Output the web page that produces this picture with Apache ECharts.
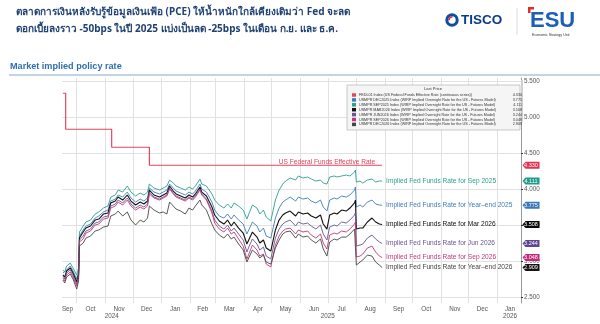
<!DOCTYPE html>
<html><head><meta charset="utf-8">
<script src="https://cdn.jsdelivr.net/npm/echarts@6/dist/echarts.min.js"></script>
<style>html,body{margin:0;padding:0;background:#fff}#c{width:600px;height:324px}</style>
</head><body><div id="c"></div>
<script>
// ---------- DATA ----------
const dates = ['2024-09-16','2024-09-18','2024-09-20','2024-09-24','2024-09-27','2024-10-01','2024-10-03','2024-10-04','2024-10-08','2024-10-11',
'2024-10-16','2024-10-21','2024-10-25','2024-10-30','2024-11-04','2024-11-07','2024-11-12','2024-11-15','2024-11-20','2024-11-25',
'2024-11-29','2024-12-04','2024-12-09','2024-12-13','2024-12-17','2024-12-19','2024-12-24','2024-12-30','2025-01-03','2025-01-07',
'2025-01-10','2025-01-14','2025-01-17','2025-01-22','2025-01-27','2025-01-31','2025-02-04','2025-02-07','2025-02-12','2025-02-14',
'2025-02-19','2025-02-25','2025-02-28','2025-03-05','2025-03-10','2025-03-14','2025-03-18','2025-03-21','2025-03-26','2025-03-31',
'2025-04-04','2025-04-07','2025-04-10','2025-04-15','2025-04-18','2025-04-22','2025-04-25','2025-04-30','2025-05-05','2025-05-09',
'2025-05-13','2025-05-16','2025-05-21','2025-05-27','2025-05-30','2025-06-04','2025-06-09','2025-06-13','2025-06-18','2025-06-23',
'2025-06-26','2025-06-30','2025-07-03','2025-07-08','2025-07-11','2025-07-16','2025-07-21','2025-07-25','2025-07-30','2025-07-31',
'2025-08-01','2025-08-05','2025-08-08','2025-08-13','2025-08-18','2025-08-22','2025-08-26','2025-08-29'];

const sep2025 = [2.875,2.847,2.931,2.972,2.903,2.806,2.903,3.403,3.486,3.542, 3.569,3.653,3.681,3.736,3.764,3.889,3.917,3.986,3.958,4.042,
3.958,3.903,3.944,3.917,3.958,4.069,4.014,3.986,4.014,4.042, 4.125,4.083,4.042,4.014,3.986,4.028,4.000,4.042,4.139,4.069,
4.042,3.931,3.847,3.778,3.736,3.792,3.736,3.806,3.764,3.708, 3.583,3.681,3.778,3.736,3.653,3.708,3.611,3.556,3.847,3.986,
4.069,4.111,4.153,4.125,4.181,4.153,4.167,4.139,4.111,4.125, 4.083,4.069,4.167,4.181,4.167,4.181,4.194,4.181,4.236,4.264,
4.097,4.111,4.083,4.125,4.139,4.097,4.111,4.111];

const dec2025 = [2.833,2.806,2.875,2.931,2.861,2.750,2.847,3.347,3.431,3.486, 3.514,3.597,3.625,3.681,3.708,3.833,3.861,3.917,3.889,3.958,
3.875,3.819,3.861,3.833,3.875,4.014,3.958,3.931,3.958,3.986, 4.069,4.014,3.972,3.944,3.917,3.958,3.931,3.972,4.069,4.000,
3.958,3.819,3.708,3.625,3.597,3.653,3.583,3.639,3.569,3.514, 3.375,3.458,3.542,3.486,3.403,3.458,3.347,3.319,3.597,3.736,
3.819,3.847,3.889,3.833,3.889,3.861,3.875,3.833,3.806,3.847, 3.750,3.694,3.847,3.875,3.861,3.903,3.889,3.917,3.986,4.028,
3.750,3.778,3.750,3.819,3.847,3.792,3.778,3.775];

const mar2026 = [2.806,2.778,2.861,2.903,2.833,2.708,2.819,3.319,3.403,3.458, 3.486,3.569,3.583,3.653,3.667,3.806,3.833,3.889,3.847,3.917,
3.833,3.778,3.819,3.792,3.833,3.986,3.917,3.889,3.917,3.944, 4.042,3.972,3.931,3.903,3.875,3.917,3.889,3.931,4.028,3.958,
3.903,3.750,3.639,3.556,3.514,3.569,3.486,3.542,3.458,3.389, 3.236,3.319,3.403,3.333,3.250,3.292,3.181,3.139,3.431,3.569,
3.639,3.667,3.694,3.625,3.681,3.653,3.667,3.625,3.597,3.639, 3.514,3.444,3.639,3.667,3.653,3.708,3.694,3.736,3.806,3.847,
3.444,3.458,3.458,3.542,3.597,3.542,3.514,3.508];

const jun2026 = [2.792,2.750,2.833,2.875,2.806,2.681,2.792,3.292,3.347,3.417, 3.444,3.528,3.542,3.611,3.625,3.764,3.792,3.847,3.806,3.875,
3.792,3.736,3.778,3.750,3.792,3.958,3.889,3.861,3.889,3.917, 4.014,3.944,3.903,3.875,3.847,3.889,3.861,3.903,4.000,3.931,
3.861,3.694,3.569,3.486,3.444,3.500,3.417,3.458,3.375,3.292, 3.125,3.222,3.306,3.236,3.153,3.194,3.069,3.028,3.319,3.444,
3.514,3.542,3.569,3.486,3.542,3.514,3.528,3.486,3.444,3.500, 3.375,3.292,3.472,3.500,3.486,3.542,3.528,3.569,3.639,3.667,
3.208,3.222,3.236,3.319,3.361,3.306,3.264,3.244];

const sep2026 = [2.764,2.722,2.806,2.847,2.778,2.653,2.764,3.264,3.306,3.389, 3.417,3.500,3.514,3.583,3.597,3.736,3.764,3.819,3.778,3.847,
3.764,3.708,3.750,3.722,3.764,3.931,3.875,3.847,3.875,3.903, 4.000,3.931,3.889,3.861,3.833,3.875,3.847,3.889,3.986,3.917,
3.847,3.667,3.528,3.444,3.403,3.458,3.375,3.403,3.306,3.208, 3.028,3.125,3.222,3.153,3.069,3.097,2.958,2.917,3.222,3.347,
3.417,3.444,3.458,3.375,3.431,3.403,3.417,3.361,3.319,3.375, 3.250,3.167,3.361,3.389,3.375,3.417,3.403,3.444,3.514,3.542,
3.056,3.069,3.097,3.181,3.208,3.125,3.069,3.048];

const dec2026 = [2.736,2.694,2.778,2.819,2.750,2.611,2.722,3.208,3.250,3.319, 3.347,3.417,3.431,3.472,3.486,3.625,3.653,3.694,3.625,3.681,
3.569,3.500,3.569,3.542,3.597,3.764,3.708,3.667,3.681,3.653, 3.819,3.764,3.722,3.694,3.653,3.736,3.708,3.764,3.847,3.778,
3.708,3.514,3.431,3.361,3.319,3.375,3.306,3.333,3.236,3.153, 2.986,3.069,3.153,3.097,3.042,3.083,2.986,2.958,3.181,3.292,
3.375,3.403,3.417,3.319,3.375,3.333,3.347,3.292,3.250,3.306, 3.167,3.069,3.264,3.306,3.292,3.333,3.333,3.375,3.444,3.458,
2.944,2.986,3.014,3.083,3.069,2.986,2.944,2.909];

const fferDates = ['2024-09-16','2024-09-19','2024-11-08','2024-12-19','2025-08-29'];
const fferValues = [5.33,4.83,4.58,4.33,4.33];

const legendNames = [
 'FEDL01 Index (US Federal Funds Effective Rate (continuous series))',
 'USMPR DEC2025 Index (WIRP Implied Overnight Rate for the US - Futures Model)',
 'USMPR SEP2025 Index (WIRP Implied Overnight Rate for the US - Futures Model)',
 'USMPR MAR2026 Index (WIRP Implied Overnight Rate for the US - Futures Model)',
 'USMPR JUN2026 Index (WIRP Implied Overnight Rate for the US - Futures Model)',
 'USMPR SEP2026 Index (WIRP Implied Overnight Rate for the US - Futures Model)',
 'USMPR DEC2026 Index (WIRP Implied Overnight Rate for the US - Futures Model)'];
const lineLabels = ['US Federal Funds Effective Rate','Implied Fed Funds Rate for Year\u2013end 2025','Implied Fed Funds Rate for Sep 2025',
 'Implied Fed Funds Rate for Mar 2026','Implied Fed Funds Rate for Jun 2026','Implied Fed Funds Rate for Sep 2026','Implied Fed Funds Rate for Year\u2013end 2026'];

const monthTicks = ['2024-10-01','2024-11-01','2024-12-01','2025-01-01','2025-02-01','2025-03-01','2025-04-01','2025-05-01','2025-06-01',
 '2025-07-01','2025-08-01','2025-09-01','2025-10-01','2025-11-01','2025-12-01','2026-01-01'];
const monthLabelDates = ['2024-09-21','2024-10-16','2024-11-16','2024-12-16','2025-01-16','2025-02-15','2025-03-16','2025-04-16','2025-05-16',
 '2025-06-16','2025-07-16','2025-08-16','2025-09-16','2025-10-16','2025-11-16','2025-12-16','2026-01-15'];
const monthLabels = ['Sep','Oct','Nov','Dec','Jan','Feb','Mar','Apr','May','Jun','Jul','Aug','Sep','Oct','Nov','Dec','Jan'];
const yearLabelDates = ['2024-11-08','2025-07-01','2026-01-15'];
const yearLabels = ['2024','2025','2026'];
const yTicks = [2.5,3,3.5,4,4.5,5,5.5];

// ---------- CHART ----------
const P = s => echarts.time.parse(s).getTime();
const xMin = P('2024-09-15'), xMax = P('2026-01-27');
const FONT = 'Liberation Sans, Arial, sans-serif';
const monthTs = monthLabelDates.map(P), yearTs = yearLabelDates.map(P);

const colors = ['#e2475d','#3f7db9','#2a9f90','#111111','#6a5390','#c4367c','#454545'];
const tagColors = ['#e0344f','#3a78b8','#1f9a8b','#0a0a0a','#5c4690','#c42a7a','#151515'];
const impliedData = [dec2025, sep2025, mar2026, jun2026, sep2026, dec2026];

function tag(last, color){
  return { symbol:'path://M0,3.5L3,0L17,0L17,7L3,7Z', symbolSize:[17,7], symbolOffset:[10,0], silent:true,
    symbolKeepAspect:false, itemStyle:{color},
    label:{show:true, position:'inside', color:'#fff', fontSize:5.5, fontFamily:FONT, formatter:()=> last.toFixed(3)},
    data:[{coord:[xMax,last]}] };
}

const series = [];
series.push({
  name: legendNames[0], type:'line', step:'end', showSymbol:false, z:3,
  data: fferDates.map((d,i)=>[P(d), fferValues[i]]),
  lineStyle:{color:colors[0], width:1.2}, itemStyle:{color:colors[0]},
  endLabel:{show:true, formatter:()=>lineLabels[0], align:'right', verticalAlign:'bottom', distance:-7,
    color:'#e0405a', fontSize:6.6, fontFamily:FONT},
  markPoint: tag(fferValues[fferValues.length-1], tagColors[0])
});
impliedData.forEach((vals,k)=>{
  const i = k+1;
  series.push({
    name: legendNames[i], type:'line', showSymbol:false, z: 2,
    data: dates.map((d,j)=>[P(d), vals[j]]),
    lineStyle:{color:colors[i], width: i===3 ? 1.1 : 0.9}, itemStyle:{color:colors[i]},
    endLabel:{show:true, formatter:()=>lineLabels[i], distance:4, color:colors[i], fontSize:6.6, fontFamily:FONT},
    markPoint: tag(vals[vals.length-1], tagColors[i])
  });
});

const lastVals = {};
lastVals[legendNames[0]] = fferValues[fferValues.length-1];
impliedData.forEach((v,k)=> lastVals[legendNames[k+1]] = v[v.length-1]);

const chart = echarts.init(document.getElementById('c'), null, {renderer:'canvas'});
chart.setOption({
  animation:false,
  backgroundColor:'#fff',
  title:[
    {text:'ตลาดการเงินหลังรับรู้ข้อมูลเงินเฟ้อ (PCE) ให้น้ำหนักใกล้เคียงเดิมว่า Fed จะลด\nดอกเบี้ยลงราว -50bps ในปี 2025 แบ่งเป็นลด -25bps ในเดือน ก.ย. และ ธ.ค.',
     left:11, top:-1, textStyle:{fontSize:10, fontWeight:'bold', color:'#1f4173', lineHeight:17, fontFamily:"'Noto Sans', 'DejaVu Sans', sans-serif"}},
    {text:'Market implied policy rate', left:5, top:57, textStyle:{fontSize:9.1, fontWeight:'bold', color:'#2e6fae', fontFamily:FONT}}
  ],
  grid:{left:62, right:79, top:78, bottom:21, outerBoundsMode:'none'},
  legend:{
    data: legendNames, orient:'vertical', left:352, top:93, itemWidth:4, itemHeight:3.5, itemGap:0.9,
    icon:'rect', selectedMode:false, z:12, padding:0,
    formatter: n => '{n|'+n+'}{v|'+lastVals[n].toFixed(3)+'}',
    textStyle:{fontSize:3.7, color:'#333', fontFamily:FONT, padding:[0,0,0,-2],
      rich:{n:{width:150, fontSize:3.7, lineHeight:4.2}, v:{width:13, align:'right', fontSize:3.7, lineHeight:4.2}}}
  },
  xAxis:[{
    type:'value', min:xMin, max:xMax, scale:true,
    axisLine:{show:false},
    axisTick:{show:false, customValues: monthTicks.map(P)},
    splitLine:{show:true, lineStyle:{color:'#e1e1e1', width:1}},
    axisLabel:{customValues: monthTs, margin:3, fontSize:6.3, color:'#555', fontFamily:FONT,
      formatter: v => { const i = monthTs.indexOf(v); return i>=0 ? monthLabels[i] : ''; }}
  },{
    type:'value', min:xMin, max:xMax, scale:true, position:'bottom', gridIndex:0,
    axisLine:{show:false}, axisTick:{show:false}, splitLine:{show:false},
    axisLabel:{customValues: yearTs, margin:10, fontSize:6.3, color:'#555', fontFamily:FONT,
      formatter: v => { const i = yearTs.indexOf(v); return i>=0 ? yearLabels[i] : ''; }}
  }],
  yAxis:{
    type:'value', position:'right', min:2.417, max:5.542,
    axisLine:{show:true, lineStyle:{color:'#9a9a9a', width:1}},
    axisTick:{show:true, length:2, customValues:yTicks, lineStyle:{color:'#333'}},
    splitLine:{show:true, lineStyle:{color:'#e1e1e1', width:1}},
    axisLabel:{customValues:yTicks, margin:3, fontSize:6.3, color:'#555', fontFamily:FONT, formatter: v => v.toFixed(3)}
  },
  graphic:[
    {type:'line', shape:{x1:9, y1:75, x2:600, y2:75}, style:{stroke:'#c3d4e8', lineWidth:2}, z:5},
    {type:'rect', shape:{x:347, y:85, width:173, height:45}, style:{fill:'#f5f5f5', stroke:'#a8a8a8', lineWidth:0.6}, z:10},
    {type:'text', x:433, y:89, style:{text:'Last Price', fontSize:4, fill:'#333', align:'center', verticalAlign:'middle', fontFamily:FONT}, z:11},
    {type:'rect', shape:{x:521, y:80, width:2, height:42}, style:{fill:'#d0d0d0'}, z:5},
    {type:'circle', shape:{cx:452, cy:20, r:5.2}, style:{fill:'none', stroke:'#0b4fa3', lineWidth:3}, z:5},
    {type:'arc', shape:{cx:452, cy:20, r:3, startAngle:Math.PI*0.95, endAngle:Math.PI*1.55}, style:{fill:'none', stroke:'#e32b2b', lineWidth:1.6}, z:6},
    {type:'text', x:461, y:20, style:{text:'TISCO', fontSize:13.5, fontWeight:'bold', fill:'#0b3c8c', verticalAlign:'middle', fontFamily:'Liberation Sans Narrow, Liberation Sans, sans-serif'}, z:5},
    {type:'line', shape:{x1:517, y1:8, x2:517, y2:35}, style:{stroke:'#dcdcdc', lineWidth:1}, z:5},
    {type:'polygon', shape:{points:[[528,7],[534,7],[534,9.5],[530.5,9.5],[530.5,13],[528,13]]}, style:{fill:'#e52b2b'}, z:6},
    {type:'text', x:530, y:21, style:{text:'ESU', fontSize:22, fontWeight:'bold', fill:'#1b5fb6', verticalAlign:'middle', fontFamily:FONT}, z:5},
    {type:'text', x:532, y:34.5, style:{text:'Economic Strategy Unit', fontSize:3.6, fill:'#333', verticalAlign:'middle', fontFamily:FONT}, z:5}
  ],
  series: series
});
</script></body></html>
